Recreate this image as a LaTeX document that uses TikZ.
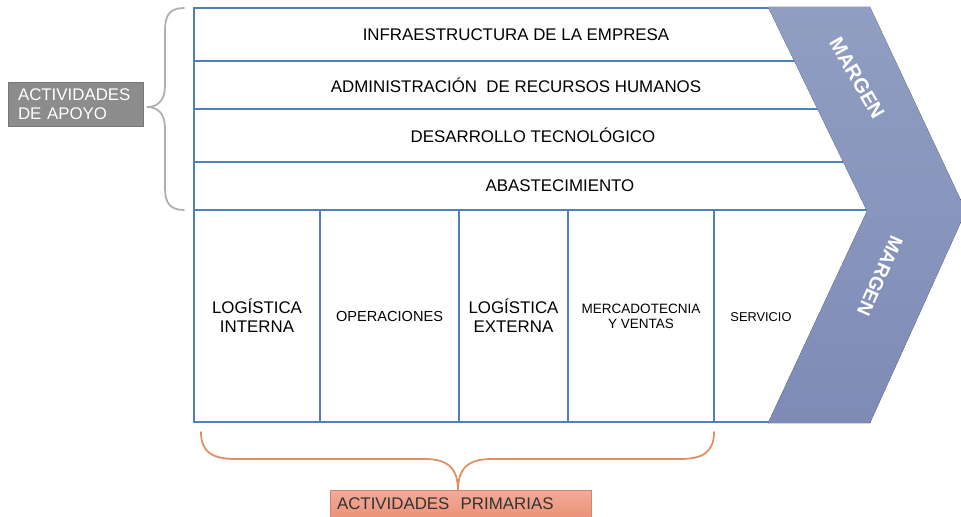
\documentclass[tikz,border=0pt]{standalone}
\usepackage{fontspec}
\setmainfont{Liberation Sans}
\usepackage{xcolor}
\usetikzlibrary{positioning, calc}
\definecolor{rowblue}{RGB}{79,129,189}
\definecolor{chevtop}{RGB}{145,158,194}
\definecolor{chevbot}{RGB}{126,139,182}
\definecolor{apoyogray}{RGB}{140,140,140}
\definecolor{bracegray}{RGB}{175,175,175}
\definecolor{braceorange}{RGB}{226,142,98}
\definecolor{salmontop}{RGB}{242,172,152}
\definecolor{salmonbot}{RGB}{236,146,122}
\newcommand{\rowfont}{\fontsize{9.6}{11}\selectfont}
\tikzset{
  rowbox/.style    = {draw=rowblue, line width=0.8pt, fill=white, inner sep=0pt, outer sep=0pt, font=\rowfont, align=center},
  primbox/.style   = {draw=rowblue, line width=0.8pt, fill=white, inner sep=0pt, outer sep=0pt, minimum height=4.24cm, align=center},
  apoyolabel/.style = {draw=apoyogray!85!black, fill=apoyogray, text=white, font=\rowfont, align=left,
                       minimum width=2.7cm, minimum height=0.88cm, text width=2.3cm, inner xsep=0.2cm},
  primlabel/.style = {draw=salmonbot!90!black, top color=salmontop, bottom color=salmonbot, text=black!80,
                      font=\rowfont, align=left, minimum width=5.22cm, minimum height=0.54cm, text width=4.94cm, inner xsep=0.14cm},
  margen/.style    = {text=white, font=\fontsize{11.5}{12}\selectfont\bfseries},
  bracelink/.style = {line width=1pt, line cap=round}
}
\begin{document}
\begin{tikzpicture}[x=0.02cm, y=-0.02cm]
  \useasboundingbox (0,0) rectangle (961,517);

  % --- Support activities --------------------------------------------------
  \node[rowbox, minimum width=12.88cm, minimum height=1.06cm] (infra) at (516, 34.5)
    {INFRAESTRUCTURA DE LA EMPRESA};
  \node[rowbox, minimum width=12.88cm, minimum height=0.96cm] (rrhh)  at (516, 85)
    {ADMINISTRACIÓN\ \ DE RECURSOS HUMANOS};
  \node[rowbox, minimum width=13.56cm, minimum height=1.06cm] (tecno) at (533, 135.5)
    {DESARROLLO TECNOLÓGICO};
  \node[rowbox, minimum width=14.64cm, minimum height=0.96cm] (abast) at (560, 186)
    {ABASTECIMIENTO};

  % --- Primary activities --------------------------------------------------
  \node[primbox, minimum width=2.52cm, font=\rowfont] (login) at (257, 316)
    {LOGÍSTICA\\INTERNA};
  \node[primbox, minimum width=2.78cm, font=\fontsize{8.3}{10}\selectfont] (oper) at (389.5, 316)
    {OPERACIONES};
  \node[primbox, minimum width=2.18cm, font=\rowfont] (logex) at (513.5, 316)
    {LOGÍSTICA\\EXTERNA};
  \node[primbox, minimum width=2.92cm, font=\fontsize{7.7}{8.6}\selectfont] (merc) at (641, 316)
    {MERCADOTECNIA\\Y VENTAS};
  \node[primbox, minimum width=3.12cm] (serv) at (792, 316) {};
  \node[font=\fontsize{7.3}{9}\selectfont, inner sep=0pt] (servtxt) at (761, 317) {SERVICIO};

  % --- Margin chevron ------------------------------------------------------
  \fill[top color=chevtop, bottom color=chevbot]
    (768,7) -- (870,7) -- (966,211) -- (870,423) -- (768,423) -- (867,211) -- cycle;
  \node[margen, rotate=-60]  (marg1) at (857, 78)  {MARGEN};
  \node[margen, rotate=-114, font=\fontsize{11}{12}\selectfont\bfseries] (marg2) at (880, 276) {MARGEN};

  % --- Labels ---------------------------------------------------------------
  \node[apoyolabel] (apoyo) at (75.5, 104) {ACTIVIDADES\\DE APOYO};
  \node[primlabel]  (prim)  at (460.5, 503.5) {ACTIVIDADES\ \ PRIMARIAS};

  \coordinate (apoyotip) at (147, 107);
  \coordinate (apoyotop) at (184, 8);
  \coordinate (apoyobot) at (184, 210);
  \coordinate (primtip)  at (458, 491);
  \coordinate (primleft) at (201, 432);
  \coordinate (primright) at (714, 432);

  % --- Braces --------------------------------------------------------------
  \draw[bracelink, draw=bracegray]
    (apoyotop) .. controls (170,8) and (165,15) .. (165,30) -- (165,86)
    .. controls (165,100) and (158,107) .. (apoyotip)
    .. controls (158,107) and (165,114) .. (165,128) -- (165,188)
    .. controls (165,203) and (170,210) .. (apoyobot);
  \draw[bracelink, draw=braceorange]
    (primleft) .. controls (201,452) and (212,459) .. (236,459) -- (424,459)
    .. controls (448,459) and (458,468) .. (primtip)
    .. controls (458,468) and (468,459) .. (492,459) -- (680,459)
    .. controls (703,459) and (714,452) .. (primright);
\end{tikzpicture}
\end{document}
